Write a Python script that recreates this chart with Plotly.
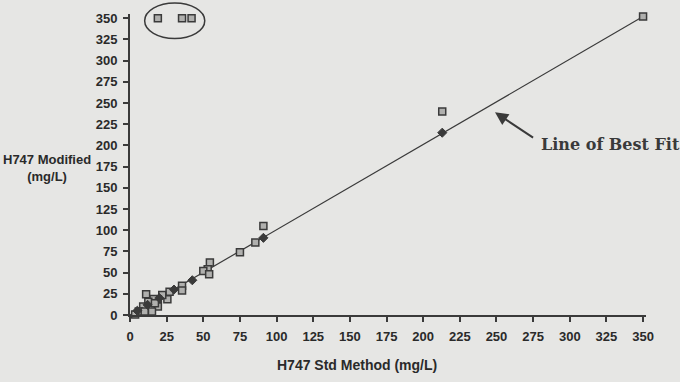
import plotly.graph_objects as go

# Measured data (square markers): H747 Std Method vs H747 Modified (mg/L)
std_method = [19, 35.5, 42, 350, 213, 91, 85.5, 75, 54.5, 53, 50, 54, 35.5, 35.5, 27, 25.5,
              22, 19, 16, 11, 12.5, 19, 15, 9, 6, 3.5, 10, 17]
modified = [350, 350, 350, 352, 240, 105, 85.5, 74, 62, 54, 52, 48, 34.5, 29, 27.5, 18.5,
            23.5, 18.5, 19, 24.5, 15.5, 10, 4, 10, 4, 0.5, 4, 14]

# Points on the fitted line (filled diamonds)
fit_x = [213, 91, 42.5, 30, 20, 12, 5]
fit_y = [215, 91, 41, 30, 20, 12, 5]

# Line of best fit end points
line_x = [0, 350]
line_y = [0, 352]

tick_vals = list(range(0, 351, 25))
tick_text = [str(v) for v in tick_vals]

BG = "#e6e6e4"
INK = "#3a3a3a"
NARROW = "Liberation Sans Narrow, Arial Narrow, Liberation Sans, Arial"

fig = go.Figure()
fig.add_trace(go.Scatter(x=line_x, y=line_y, mode="lines",
                         line=dict(color=INK, width=1.2), hoverinfo="skip",
                         showlegend=False))
fig.add_trace(go.Scatter(x=std_method, y=modified, mode="markers",
                         marker=dict(symbol="square", size=7, color="#b0b0ae",
                                     line=dict(color=INK, width=1.5)),
                         cliponaxis=False, showlegend=False))
fig.add_trace(go.Scatter(x=fit_x, y=fit_y, mode="markers",
                         marker=dict(symbol="diamond", size=7, color=INK,
                                     line=dict(color=INK, width=1)),
                         cliponaxis=False, showlegend=False))

axis_common = dict(
    showgrid=False, zeroline=False, showline=True, linecolor=INK, linewidth=2,
    ticks="outside", ticklen=5, tickwidth=1.5, tickcolor=INK,
    tickvals=tick_vals, ticktext=tick_text,
    tickfont=dict(family=NARROW, size=13, color="#2a2a2a", weight="bold"),
)

fig.update_layout(
    width=680, height=382,
    paper_bgcolor=BG, plot_bgcolor=BG,
    margin=dict(l=130, r=34, t=14, b=67),
    xaxis=dict(range=[0, 352], ticklabelstandoff=3, **axis_common),
    yaxis=dict(range=[0, 355], ticklabelstandoff=3, **axis_common),
    shapes=[dict(type="circle", xref="x", yref="paper",
                 x0=10, x1=51, y0=326 / 355, y1=368 / 355,
                 line=dict(color=INK, width=1.5))],
    annotations=[
        dict(text="H747 Std Method (mg/L)", xref="paper", yref="paper",
             x=0.44, y=-0.165, xanchor="center", yanchor="middle", showarrow=False,
             font=dict(family=NARROW, size=14, color="#2a2a2a", weight="bold")),
        dict(text="H747 Modified<br>(mg/L)", xref="paper", yref="paper",
             x=-0.072, y=0.49, xanchor="right", yanchor="middle", showarrow=False,
             align="center",
             font=dict(family=NARROW, size=13, color="#2a2a2a", weight="bold")),
        dict(text="Line of Best Fit", xref="x", yref="y", x=279, y=201,
             xanchor="left", yanchor="middle", showarrow=False,
             font=dict(family="DejaVu Serif, Liberation Serif", size=16,
                       color="#3a3a3a", weight="bold")),
        dict(text="", xref="x", yref="y", x=249, y=239,
             axref="x", ayref="y", ax=276, ay=208, showarrow=True,
             arrowhead=2, arrowsize=1.3, arrowwidth=2, arrowcolor=INK),
    ],
)

fig.write_html("out.html", config={"displayModeBar": False},
               post_script="document.body.style.margin='0';")
